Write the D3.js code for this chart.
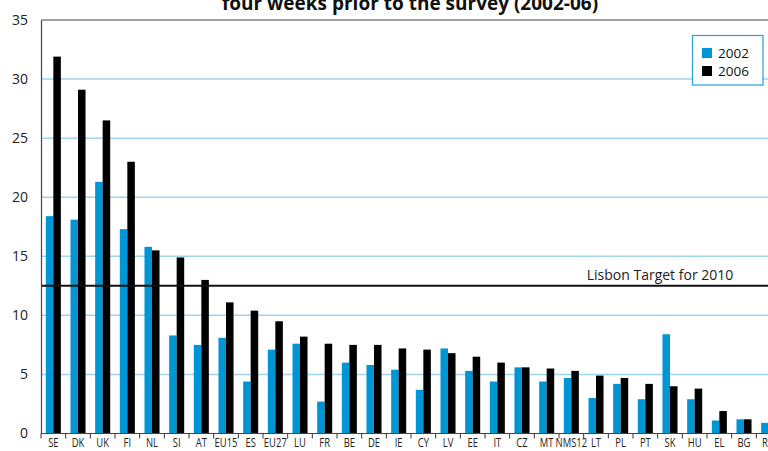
<!DOCTYPE html>
<html><head><meta charset="utf-8">
<script src="https://cdn.jsdelivr.net/npm/d3@7"></script>
<style>body{margin:0;background:#fff}svg{display:block}</style>
</head><body>
<svg id="c" width="768" height="451"></svg>
<script>
const categories = ["SE","DK","UK","FI","NL","SI","AT","EU15","ES","EU27","LU","FR","BE","DE","IE","CY","LV","EE","IT","CZ","MT","NMS12","LT","PL","PT","SK","HU","EL","BG","RO"];
const values2002 = [18.4,18.1,21.3,17.3,15.8,8.3,7.5,8.1,4.4,7.1,7.6,2.7,6.0,5.8,5.4,3.7,7.2,5.3,4.4,5.6,4.4,4.7,3.0,4.2,2.9,8.4,2.9,1.1,1.2,0.9];
const values2006 = [31.9,29.1,26.5,23.0,15.5,14.9,13.0,11.1,10.4,9.5,8.2,7.6,7.5,7.5,7.2,7.1,6.8,6.5,6.0,5.6,5.5,5.3,4.9,4.7,4.2,4.0,3.8,1.9,1.2,1.2];
const seriesNames = ["2002","2006"];
const yTicks = [0,5,10,15,20,25,30,35];
const target = 12.5;
const targetLabel = "Lisbon Target for 2010";
const title = "four weeks prior to the survey (2002-06)";

const colors = {"2002":"#0096d6","2006":"#000000"};
const svg = d3.select("#c");
const L = 41, R = 781, T = 20, B = 433.5;
const x = d3.scaleBand().domain(categories).range([L, R]);
const y = d3.scaleLinear().domain([0,35]).range([B, T]);
const bw = x.bandwidth()*0.305;
const font = "'Open Sans',sans-serif";

// grid
svg.append("g").selectAll("line").data(yTicks.filter(d=>d>0 && d<35)).join("line")
  .attr("x1",L).attr("x2",768).attr("y1",d=>y(d)).attr("y2",d=>y(d))
  .attr("stroke","#9fd4ec").attr("stroke-width",1.5);
// top frame
svg.append("line").attr("x1",L).attr("x2",768).attr("y1",y(35)).attr("y2",y(35)).attr("stroke","#444").attr("stroke-width",1.2);

// bars
const data = categories.map((c,i)=>({c, v:[values2002[i], values2006[i]]}));
const g = svg.append("g");
data.forEach(d=>{
  const cx = x(d.c) + x.bandwidth()/2;
  d.v.forEach((v,j)=>{
    g.append("rect").attr("x", cx - bw + j*bw).attr("width", bw)
      .attr("y", y(v)).attr("height", B - y(v)).attr("fill", colors[seriesNames[j]]);
  });
});

// target line
svg.append("line").attr("x1",L).attr("x2",768).attr("y1",y(target)).attr("y2",y(target)).attr("stroke","#111").attr("stroke-width",2);
svg.append("text").attr("x",660).attr("y",y(target)-6).attr("text-anchor","middle")
  .attr("font-family",font).attr("font-size",14).attr("fill","#222").text(targetLabel);

// y axis
const ya = svg.append("g").attr("transform",`translate(${L},0)`).call(d3.axisLeft(y).tickValues(yTicks).tickSize(0).tickPadding(13));
ya.select(".domain").attr("stroke","#444").attr("stroke-width",1.2);
ya.selectAll("text").attr("font-family",font).attr("font-size",14).attr("fill","#222");

// x axis
const xa = svg.append("g").attr("transform",`translate(0,${B})`);
xa.append("line").attr("x1",L).attr("x2",768).attr("stroke","#444").attr("stroke-width",1.2);
xa.selectAll(".tk").data(categories).join("line").attr("class","tk")
  .attr("x1",d=>x(d)).attr("x2",d=>x(d)).attr("y1",0).attr("y2",5).attr("stroke","#333");
xa.selectAll(".lb").data(categories).join("text").attr("class","lb")
  .attr("transform",d=>`translate(${x(d)+x.bandwidth()/2},13) scale(0.7,1)`)
  .attr("text-anchor","middle")
  .attr("font-family",font).attr("font-size",13.5).attr("fill","#222").text(d=>d);

// title
svg.append("text").attr("x",410).attr("y",10).attr("text-anchor","middle")
  .attr("font-family",font).attr("font-weight","bold").attr("font-size",19).attr("fill","#111").text(title);

// legend
const lg = svg.append("g");
lg.append("rect").attr("x",692.5).attr("y",35.5).attr("width",70.5).attr("height",49.5).attr("fill","#fff").attr("stroke","#2a9fd8").attr("stroke-width",1.2);
seriesNames.forEach((s,i)=>{
  lg.append("rect").attr("x",702).attr("y",48+i*18).attr("width",10).attr("height",10).attr("fill",colors[s]);
  lg.append("text").attr("x",718).attr("y",57.5+i*18).attr("font-family",font).attr("font-size",13.5).attr("fill","#111").text(s);
});
</script>
</body></html>
